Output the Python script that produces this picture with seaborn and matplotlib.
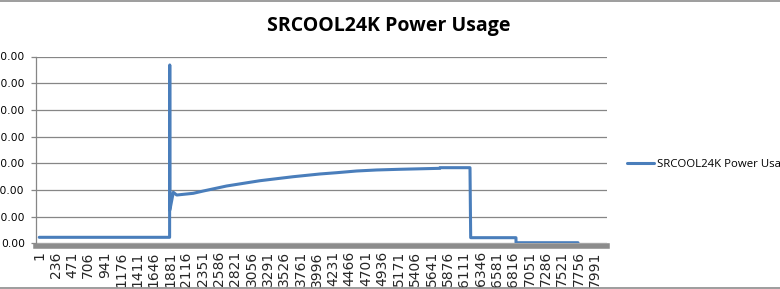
import matplotlib
matplotlib.use("Agg")
import matplotlib.pyplot as plt
from matplotlib.lines import Line2D
import seaborn as sns
import pandas as pd

# ---- data ----
sample_no = [1, 1875, 1877, 1879, 1928, 1977, 2215, 2359, 2695, 3174, 3653,
             4037, 4277, 4565, 4852, 5187, 5761, 5762, 6194, 6204, 6855, 6856, 7747]
power_w = [114, 114, 3341, 625, 957, 906, 938, 981, 1075, 1174, 1249,
           1300, 1324, 1356, 1375, 1388, 1406, 1418, 1418, 107, 107, 13, 13]
x_tick_labels = [1, 236, 471, 706, 941, 1176, 1411, 1646, 1881, 2116, 2351, 2586,
                 2821, 3056, 3291, 3526, 3761, 3996, 4231, 4466, 4701, 4936, 5171,
                 5406, 5641, 5876, 6111, 6346, 6581, 6816, 7051, 7286, 7521, 7756, 7991]
y_ticks = [0, 500, 1000, 1500, 2000, 2500, 3000, 3500]
series_name = "SRCOOL24K Power Usage"
title = "SRCOOL24K Power Usage"

df = pd.DataFrame({"sample": sample_no, "power": power_w, "series": series_name})

sns.set_style("white")
plt.rcParams["font.family"] = ["DejaVu Sans"]

W, H = 780, 289
fig = plt.figure(figsize=(W / 100, H / 100), dpi=100)
ax = fig.add_axes([36 / W, (H - 243.4) / H, (607 - 36) / W, (243.4 - 56.5) / H])

grid_c = "#868686"
sns.lineplot(data=df, x="sample", y="power", hue="series", palette=["#4A7EBB"],
             linewidth=2.2, ax=ax, zorder=3, estimator=None, sort=False)

ax.set_xlim(-46, 8164)
ax.set_ylim(0, 3500)
ax.set_yticks(y_ticks)
ax.set_yticklabels([f"{v:.2f}" for v in y_ticks], fontsize=7.7, color="black")
ax.set_xticks(x_tick_labels)
ax.set_xticklabels([str(v) for v in x_tick_labels], fontsize=7, color="black")
ax.yaxis.grid(True, color=grid_c, linewidth=0.9)
ax.xaxis.grid(False)
ax.tick_params(axis="y", length=3.3, width=0.9, color=grid_c, pad=4.8, left=True)
ax.tick_params(axis="x", length=0, pad=4, labelrotation=90)
for lab in ax.get_xticklabels():
    lab.set_rotation(90)
    lab.set_va("top")
    lab.set_ha("center")
ax.set_xlabel("")
ax.set_ylabel("")

for s in ["top", "right"]:
    ax.spines[s].set_visible(False)
ax.spines["left"].set_color(grid_c)
ax.spines["left"].set_linewidth(0.9)
ax.spines["bottom"].set_color("#8C8C8C")
ax.spines["bottom"].set_linewidth(4.0)
ax.spines["bottom"].set_position(("outward", 1.6))

leg = ax.legend(loc="center left", bbox_to_anchor=(627 / W, (H - 164) / H),
                bbox_transform=fig.transFigure, frameon=False, borderpad=0,
                borderaxespad=0, handlelength=2.4, handletextpad=0.25,
                prop={"family": "Open Sans", "size": 8.2})
for t in leg.get_texts():
    t.set_color("black")

fig.text(389 / W, (H - 26) / H, title, ha="center", va="center",
         fontsize=14, fontweight="bold", family="Open Sans", color="black")

# chart area border (top and bottom edges visible in the crop)
fig.add_artist(Line2D([0, 1], [1 - 1 / H, 1 - 1 / H], transform=fig.transFigure,
                      color="#8C8C8C", linewidth=1.2))
fig.add_artist(Line2D([0, 1], [1.0 / H, 1.0 / H], transform=fig.transFigure,
                      color="#8C8C8C", linewidth=1.2))

fig.savefig("out.png", dpi=100)
